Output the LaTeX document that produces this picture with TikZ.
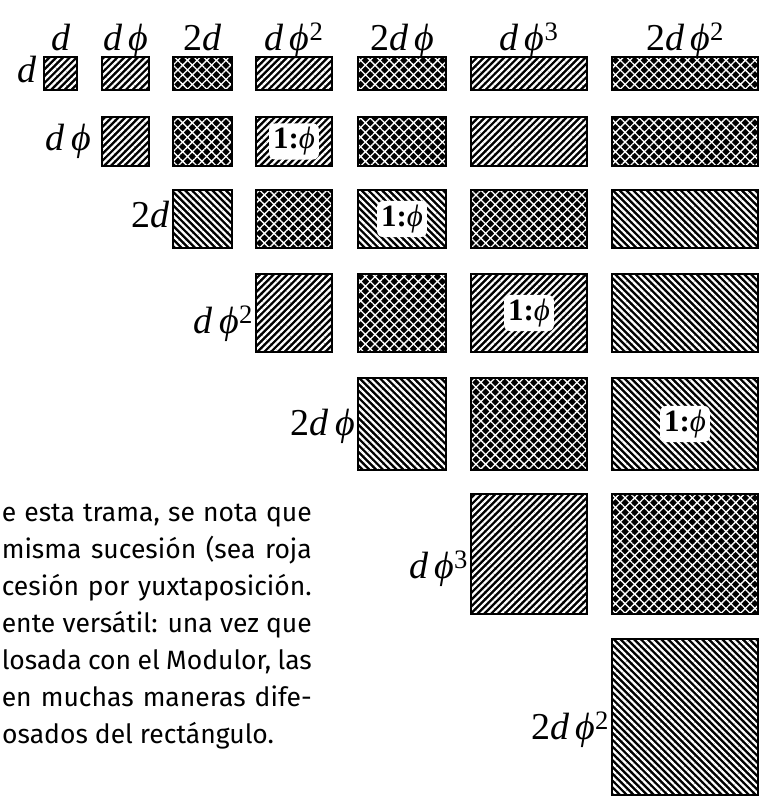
\documentclass[tikz,border=0pt]{standalone}
\usepackage{fontspec}
\setmainfont{Fira Sans}
\newfontfamily\labfont{Liberation Serif}
\usetikzlibrary{patterns.meta,positioning}

% edges of the columns and rows of the trama
\def\colL{{44,102,173,256,358,471,612}}
\def\colR{{77,149,232,332,446,587,758}}
\def\rowT{{57,117,190,274,378,494,639}}
\def\rowB{{90,166,248,352,470,614,795}}

\tikzset{
  cell/.style={draw=black,line width=2pt,inner sep=0pt,outer sep=0pt,
    preaction={fill=black},pattern color=white},
  hatchne/.style={cell,pattern={Lines[angle=45,distance=4.8pt,line width=2.2pt]}},
  hatchnw/.style={cell,pattern={Lines[angle=-45,distance=4.8pt,line width=2.2pt]}},
  hatchx/.style={cell,pattern={Hatch[angle=45,distance=6.8pt,line width=1.3pt]}},
  lab/.style={font=\labfont\fontsize{38}{38}\selectfont,inner sep=0pt},
  ratio/.style={fill=white,rounded corners=6pt,inner sep=4pt,
    font=\labfont\bfseries\fontsize{31}{31}\selectfont},
  txt/.style={font=\fontsize{26.5}{26.5}\selectfont,inner sep=0pt}
}

\begin{document}
\begin{tikzpicture}[x=1pt,y=-1pt]
\useasboundingbox (0,0) rectangle (760,796);

\foreach \r/\c/\p in {1/1/hatchne,1/2/hatchne,1/3/hatchx,1/4/hatchne,1/5/hatchx,1/6/hatchne,1/7/hatchx,
  2/2/hatchne,2/3/hatchx,2/4/hatchne,2/5/hatchx,2/6/hatchne,2/7/hatchx,
  3/3/hatchnw,3/4/hatchx,3/5/hatchnw,3/6/hatchx,3/7/hatchnw,
  4/4/hatchne,4/5/hatchx,4/6/hatchne,4/7/hatchnw,
  5/5/hatchnw,5/6/hatchx,5/7/hatchnw,
  6/6/hatchne,6/7/hatchx,
  7/7/hatchnw}{
  \pgfmathsetmacro\xa{\colL[\c-1]}
  \pgfmathsetmacro\xb{\colR[\c-1]}
  \pgfmathsetmacro\ya{\rowT[\r-1]}
  \pgfmathsetmacro\yb{\rowB[\r-1]}
  \node[\p,minimum width={(\xb-\xa)*1pt},minimum height={(\yb-\ya)*1pt}]
    (b\r\c) at ({(\xa+\xb)/2},{(\ya+\yb)/2}) {};
}

% column labels
\foreach \c/\txt in {1/{\itshape d},2/{\itshape d\,ϕ},3/{2\itshape d},
  4/{\itshape d\,ϕ\textsuperscript{\upshape 2}},5/{2\itshape d\,ϕ},
  6/{\itshape d\,ϕ\textsuperscript{\upshape 3}},7/{2\itshape d\,ϕ\textsuperscript{\upshape 2}}}
  \node[lab,anchor=base] (t\c) at ([yshift=7pt]b1\c.north) {\txt};

% row labels
\foreach \r/\txt/\dx/\dy in {1/{\itshape d}/7/9,2/{\itshape d\,ϕ}/11/9,3/{2\itshape d}/3/8,
  4/{\itshape d\,ϕ\textsuperscript{\upshape 2}}/3/20,5/{2\itshape d\,ϕ}/3/11,
  6/{\itshape d\,ϕ\textsuperscript{\upshape 3}}/3/24,7/{2\itshape d\,ϕ\textsuperscript{\upshape 2}}/3/22}
  \node[lab,anchor=base east] (l\r) at ([xshift=-\dx pt,yshift=-\dy pt]b\r\r.west) {\txt};

% the 1:phi cells
\foreach \n in {24,35,46,57}
  \node[ratio] (q\n) at (b\n) {1:{\mdseries\itshape ϕ}};

% text beside the trama (justified lines, last one ragged)
\foreach \k/\s in {0/{e esta trama, se nota que},1/{misma sucesión (sea roja},
  2/{cesión por yuxtaposición.},3/{ente versátil: una vez que},
  4/{losada con el Modulor, las},5/{en muchas maneras dife-}}
  \node[txt,anchor=base east] (p\k) at (312,521+37*\k) {\makebox[310pt][s]{\s}};
\node[txt,anchor=base west] (p6) at (2,743) {osados del rectángulo.};
\end{tikzpicture}
\end{document}
